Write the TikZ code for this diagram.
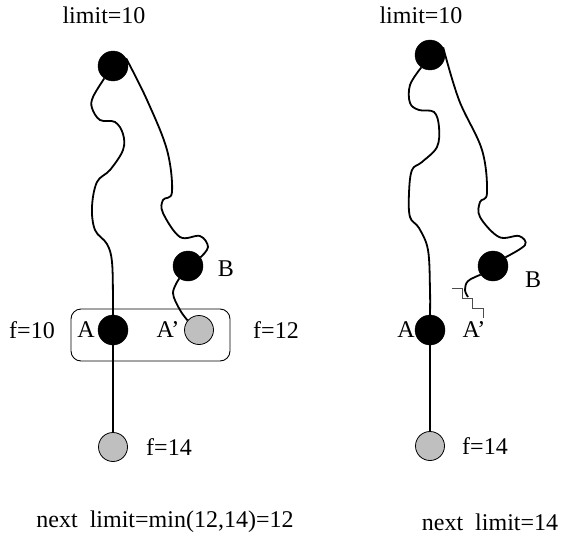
\documentclass[tikz,border=0pt]{standalone}
\usepackage{fontspec}
\setmainfont{Liberation Serif}
\begin{document}
\begin{tikzpicture}[x=1pt,y=-1pt,
  every node/.style={font=\fontsize{24}{28}\selectfont},
  bnode/.style={circle,fill=black,draw=black,minimum size=30pt,inner sep=0pt},
  gnode/.style={circle,fill=black!25,draw=black,line width=0.8pt,minimum size=29pt,inner sep=0pt},
  lbl/.style={inner sep=0pt},
  curve/.style={line width=1.8pt},
  boxst/.style={draw,rounded corners=10pt,line width=0.9pt,minimum width=159pt,minimum height=52pt,inner sep=0pt},
  stair/.style={draw=black!70,line width=0.9pt}]
\useasboundingbox (0,0) rectangle (564,535);
% ---------- left panel ----------
\node[lbl] (lim1) at (104,15) {limit=10};
\node[boxst] (box) at (150.5,335) {};
\node[bnode] (t1) at (113,66) {};
\node[bnode] (b1) at (188,266) {};
\node[bnode] (a1) at (113,330) {};
\node[gnode] (ap1) at (199,330) {};
\node[gnode] (c1) at (113,447) {};
\node[lbl] (lb1) at (226,269) {B};
\node[lbl] (la1) at (86,330) {A};
\node[lbl] (lap1) at (168,330) {A'};
\node[lbl] (f10) at (32,330) {f=10};
\node[lbl] (f12) at (276,330) {f=12};
\node[lbl] (f14a) at (169,447) {f=14};
\node[lbl] (nx1) at (165,522) {next\ \ limit=min(12,14)=12};
\draw[curve] plot[smooth,tension=0.6] coordinates {(t1.235) (93,97) (92,108) (100,120) (115,122) (123,134) (123,150) (110,170) (97,182) (92,207) (95,230) (107,244) (112,262) (113,300) (a1.north)};
\draw[curve] plot[smooth,tension=0.6] coordinates {(t1.30) (147,100) (167,150) (172,192) (163,200) (163,213) (180,237) (200,236) (208,247) (b1.35)};
\draw[curve] plot[smooth,tension=0.6] coordinates {(b1.235) (173,293) (180,310) (ap1.140)};
\draw[curve] (a1) -- (c1);
% ---------- right panel ----------
\node[lbl] (lim2) at (421,15) {limit=10};
\node[bnode] (t2) at (430,55) {};
\node[bnode] (b2) at (493,266) {};
\node[bnode] (a2) at (430,330) {};
\node[gnode] (c2) at (430,446) {};
\node[lbl] (lb2) at (533,280) {B};
\node[lbl] (la2) at (406,330) {A};
\node[lbl] (lap2) at (474,330) {A'};
\node[lbl] (f14b) at (485,446) {f=14};
\node[lbl] (nx2) at (490,522) {next\ \ limit=14};
\coordinate (w2) at (468,297);
\coordinate (s0) at (452,288);
\coordinate (s1) at (483,318);
\draw[curve] plot[smooth,tension=0.6] coordinates {(t2.235) (410,85) (410,103) (419,110) (434,112) (439,127) (437,147) (422,162) (412,170) (409,193) (410,217) (419,228) (428,250) (430,290) (a2.north)};
\draw[curve] plot[smooth,tension=0.6] coordinates {(t2.30) (459,100) (482,150) (487,193) (480,202) (480,217) (499,237) (519,236) (525,245) (b2.35)};
\draw[curve] plot[smooth,tension=0.6] coordinates {(b2.215) (468,281) (465,290) (w2)};
\draw[curve] (a2) -- (c2);
\draw[stair] (s0) -- (462,288) -- (462,298) -- (472,298) -- (472,308) -- (483,308) -- (s1);
\end{tikzpicture}
\end{document}
